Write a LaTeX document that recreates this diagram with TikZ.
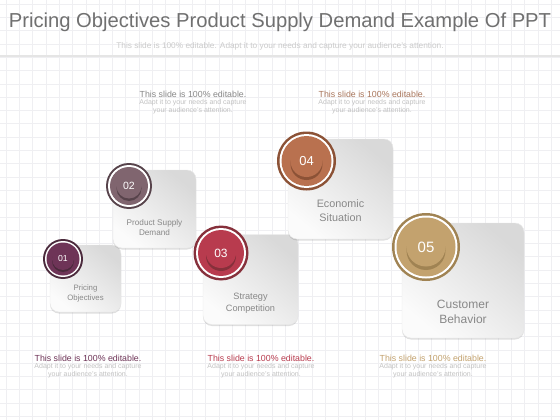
\documentclass[tikz,border=0pt]{standalone}
\usepackage{fontspec}
\setmainfont{Liberation Sans}
\usepackage{xcolor}
\usetikzlibrary{positioning,shadows}

\definecolor{plum}{HTML}{6E3457}
\definecolor{plumdark}{HTML}{4B2A3C}
\definecolor{mauve}{HTML}{80656F}
\definecolor{mauvedark}{HTML}{57434B}
\definecolor{berry}{HTML}{B83B4E}
\definecolor{berrydark}{HTML}{86303B}
\definecolor{copper}{HTML}{B9714F}
\definecolor{copperdark}{HTML}{8C5236}
\definecolor{sand}{HTML}{C3A26E}
\definecolor{sanddark}{HTML}{A08353}
\definecolor{gridline}{HTML}{EFEFF2}
\definecolor{titlegrey}{HTML}{707070}
\definecolor{labelgrey}{HTML}{888888}
\definecolor{notegrey}{HTML}{C2C2C2}
\definecolor{notebrown}{HTML}{A9765C}

\begin{document}
\begin{tikzpicture}[x=1pt, y=-1pt, font=\sffamily,
	card/.style={rounded corners=9pt, draw=gray!18, inner sep=0pt, top color=gray!30, bottom color=gray!3, shading angle=-40, drop shadow={shadow xshift=0pt, shadow yshift=-1.5pt, opacity=0.25}},
	cardtext/.style={text=labelgrey, align=center, inner sep=0pt},
	rim/.style={circle, inner sep=0pt},
	knob/.style={circle, inner sep=0pt, text=white},
	notehead/.style={font=\fontsize{8.8}{10}\selectfont, inner sep=0pt},
	notebody/.style={font=\fontsize{7}{8}\selectfont, text=notegrey, align=center, inner sep=0pt}]
		\useasboundingbox (0,0) rectangle (560,420);
		\fill[white] (0,0) rectangle (560,420);
		% background grid
		\foreach \gx in {6,19.3,...,560} \draw[gridline, line width=0.5pt] (\gx,0) -- (\gx,420);
		\foreach \gy in {4,17.3,...,420} \draw[gridline, line width=0.5pt] (0,\gy) -- (560,\gy);
		\draw[gray!20, line width=1.2pt] (0,56) -- (560,56);

		\node[text=titlegrey, font=\fontsize{20.2}{23}\selectfont, inner sep=0pt] (title) at (280,22) {Pricing Objectives Product Supply Demand Example Of PPT};
		\node[text=notegrey!85, font=\fontsize{8.3}{9}\selectfont, inner sep=0pt] (subtitle) at (280,46) {This slide is 100\% editable. Adapt it to your needs and capture your audience's attention.};

		% step 01
		\node[card, minimum width=71pt, minimum height=67pt] (card01) at (85.5,278.5) {};
		\node[cardtext, font=\fontsize{7.8}{9.5}\selectfont] (label01) at (85.5,293.5) {Pricing\\Objectives};
		\node[rim, fill=plumdark, minimum size=40pt] (disc01) at (63,259) {};
		\node[rim, fill=white, minimum size=36pt] at (disc01) {};
		\node[rim, fill=plum, minimum size=33pt] at (disc01) {};
		\node[rim, fill=plumdark, minimum size=22pt] at ([yshift=-2pt]disc01.center) {};
		\node[knob, fill=plum, minimum size=22pt, font=\fontsize{8.7}{9}\selectfont] (num01) at (disc01) {01};

		% step 02
		\node[card, minimum width=83pt, minimum height=78pt] (card02) at (154.5,209) {};
		\node[cardtext, font=\fontsize{8.2}{10}\selectfont] (label02) at (154.5,228) {Product Supply\\Demand};
		\node[rim, fill=mauvedark, minimum size=46pt] (disc02) at (129,186) {};
		\node[rim, fill=white, minimum size=42pt] at (disc02) {};
		\node[rim, fill=mauve, minimum size=38pt] at (disc02) {};
		\node[rim, fill=mauvedark, minimum size=25pt] at ([yshift=-2.5pt]disc02.center) {};
		\node[knob, fill=mauve, minimum size=25pt, font=\fontsize{10.5}{11}\selectfont] (num02) at (disc02) {02};

		% step 03
		\node[card, minimum width=95pt, minimum height=90pt] (card03) at (250.5,279.5) {};
		\node[cardtext, font=\fontsize{9.2}{12}\selectfont] (label03) at (250.5,303) {Strategy\\Competition};
		\node[rim, fill=berrydark, minimum size=55pt] (disc03) at (221,253) {};
		\node[rim, fill=white, minimum size=50pt] at (disc03) {};
		\node[rim, fill=berry, minimum size=46pt] at (disc03) {};
		\node[rim, fill=berrydark, minimum size=30pt] at ([yshift=-3pt]disc03.center) {};
		\node[knob, fill=berry, minimum size=30pt, font=\fontsize{12}{13}\selectfont] (num03) at (disc03) {03};

		% step 04
		\node[card, minimum width=105pt, minimum height=100pt] (card04) at (340.5,189) {};
		\node[cardtext, font=\fontsize{10.8}{14}\selectfont] (label04) at (340.5,211) {Economic\\Situation};
		\node[rim, fill=copperdark, minimum size=59pt] (disc04) at (306.5,161) {};
		\node[rim, fill=white, minimum size=54pt] at (disc04) {};
		\node[rim, fill=copper, minimum size=50pt] at (disc04) {};
		\node[rim, fill=copperdark, minimum size=32pt] at ([yshift=-3pt]disc04.center) {};
		\node[knob, fill=copper, minimum size=32pt, font=\fontsize{13}{14}\selectfont] (num04) at (disc04) {04};

		% step 05
		\node[card, minimum width=122pt, minimum height=115pt] (card05) at (463,280.5) {};
		\node[cardtext, font=\fontsize{12}{15}\selectfont] (label05) at (463,311.5) {Customer\\Behavior};
		\node[rim, fill=sanddark, minimum size=68pt] (disc05) at (426,247) {};
		\node[rim, fill=white, minimum size=63pt] at (disc05) {};
		\node[rim, fill=sand, minimum size=59pt] at (disc05) {};
		\node[rim, fill=sanddark, minimum size=39pt] at ([yshift=-3.5pt]disc05.center) {};
		\node[knob, fill=sand, minimum size=39pt, font=\fontsize{15}{16}\selectfont] (num05) at (disc05) {05};

		% notes
		\node[notehead, text=labelgrey] (note1) at (193,94) {This slide is 100\% editable.};
		\node[notebody, below=2pt of note1] (note1b) {Adapt it to your needs and capture\\your audience's attention.};
		\node[notehead, text=notebrown] (note2) at (372,94) {This slide is 100\% editable.};
		\node[notebody, below=2pt of note2] (note2b) {Adapt it to your needs and capture\\your audience's attention.};
		\node[notehead, text=plum] (note3) at (88,358) {This slide is 100\% editable.};
		\node[notebody, below=2pt of note3] (note3b) {Adapt it to your needs and capture\\your audience's attention.};
		\node[notehead, text=berry] (note4) at (261,358) {This slide is 100\% editable.};
		\node[notebody, below=2pt of note4] (note4b) {Adapt it to your needs and capture\\your audience's attention.};
		\node[notehead, text=sand] (note5) at (433,358) {This slide is 100\% editable.};
		\node[notebody, below=2pt of note5] (note5b) {Adapt it to your needs and capture\\your audience's attention.};
	\end{tikzpicture}
\end{document}
